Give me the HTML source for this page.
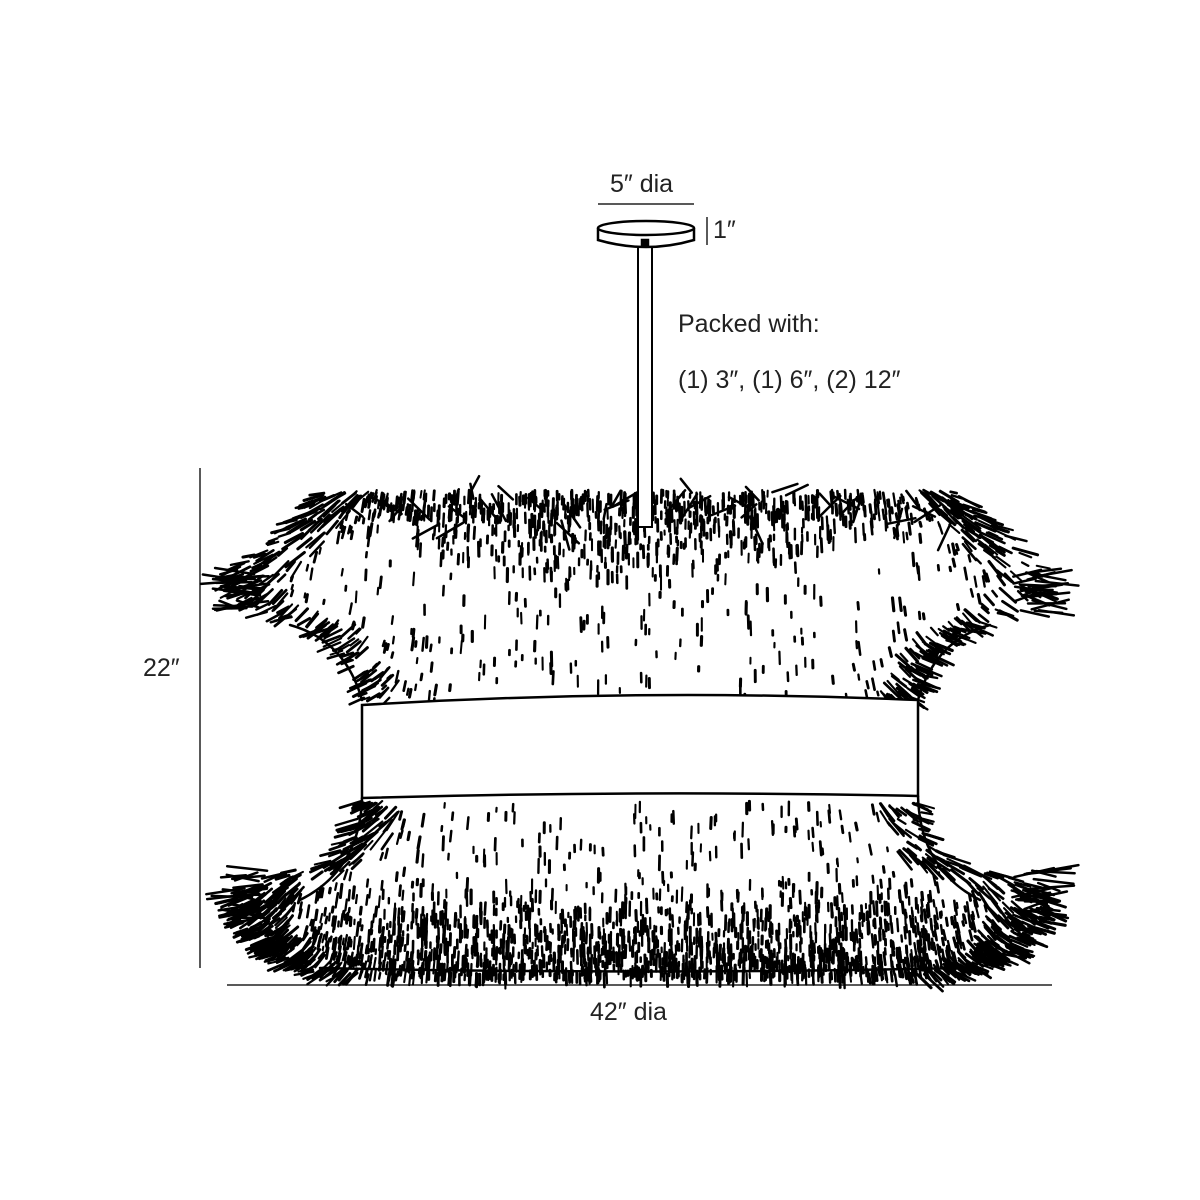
<!DOCTYPE html>
<html><head><meta charset="utf-8"><style>
html,body{margin:0;padding:0;background:#fff;}
#w{position:relative;width:1200px;height:1200px;overflow:hidden;font-family:"Liberation Sans","DejaVu Sans",sans-serif;color:#222;}
.t{position:absolute;font-size:25px;white-space:nowrap;font-weight:300;}
svg{position:absolute;left:0;top:0;}
</style></head><body><div id="w">
<svg id="s" width="1200" height="1200" viewBox="0 0 1200 1200">
<g stroke="#222" stroke-width="1.5" fill="none">
<line x1="598" y1="204" x2="694" y2="204"/>
<line x1="707" y1="217" x2="707" y2="245"/>
<line x1="200" y1="468" x2="200" y2="968"/>
<line x1="227" y1="985" x2="1052" y2="985"/>
</g>
<g id="fr" stroke="#000" stroke-linecap="round" fill="none"></g>
<g stroke="#000" stroke-width="2.5" fill="#fff">
<path d="M362 705 Q640 688 918 700 L918 796 Q640 790 362 798 Z"/>
<rect x="638" y="247" width="14" height="280" stroke-width="2"/>
<path d="M598 228 L598 240 Q646 254 694 240 L694 228"/>
<ellipse cx="646" cy="228" rx="48" ry="7"/>
<rect x="642" y="240" width="6" height="6" fill="#000"/>
</g>
</svg>
<div class="t" style="left:610px;top:170px;">5″ dia</div>
<div class="t" style="left:713px;top:216px;">1″</div>
<div class="t" style="left:678px;top:310px;">Packed with:</div>
<div class="t" style="left:678px;top:366px;">(1) 3″, (1) 6″, (2) 12″</div>
<div class="t" style="left:143px;top:654px;">22″</div>
<div class="t" style="left:590px;top:998px;">42″ dia</div>
</div>
<script>
(function(){
var seed=12345;function r(){seed=(seed*16807)%2147483647;return seed/2147483647;}
function interp(tab,y){for(var i=0;i<tab.length-1;i++){var a=tab[i],b=tab[i+1];if(y>=a[0]&&y<=b[0]){return a[1]+(b[1]-a[1])*(y-a[0])/(b[0]-a[0]);}}return null;}
var upL=[[490,330],[500,310],[520,290],[550,260],[570,232],[590,228],[610,270],[630,320],[660,350],[700,362]];
var loL=[[800,360],[830,355],[860,330],[880,260],[900,232],[920,238],[950,265],[975,320]];
var g=document.getElementById('fr');var out=[];
function line(x1,y1,x2,y2,w){out.push('<line x1="'+x1.toFixed(1)+'" y1="'+y1.toFixed(1)+'" x2="'+x2.toFixed(1)+'" y2="'+y2.toFixed(1)+'" stroke-width="'+w+'"/>');}
function region(tab,y0,y1,N,densF){
 for(var n=0;n<N;n++){
  var y=y0+r()*(y1-y0);var xl=interp(tab,y);if(xl==null)continue;
  var hw=640-xl;var x=640+(r()*2-1)*hw;
  var dx=(x-640)/hw;var ad=Math.abs(dx);
  var p=densF(y,ad);if(r()>p)continue;
  var ang=Math.sign(dx)*Math.pow(ad,4)*1.3+(r()-0.5)*0.3;
  var L=4+r()*10; if(ad>0.85)L+=r()*14;
  line(x,y,x+Math.sin(ad>0.85?ang:ang*0.3)*L,y+Math.cos(ang)*L,2+r()*1.2);
 }
}
region(upL,490,700,7000,function(y,ad){var c=1-Math.min(1,ad/0.7);var top=Math.max(0,(540+60*c-y)/(60+60*c));var e=Math.max(0,(ad-0.78)/0.22);return Math.min(1,0.04+0.75*top+0.45*e);});
region(loL,800,975,7000,function(y,ad){var b=Math.max(0,(y-870)/100);var e=Math.max(0,(ad-0.8)/0.2);return Math.min(1,0.04+0.8*b+0.45*e);});
for(var i=0;i<45;i++){var x=320+r()*640;var y=490+r()*35;var a=(r()-0.5)*2.4;line(x,y,x+Math.sin(a)*30,y+Math.cos(a)*30*(r()>0.5?1:-0.5),2.5);}
for(var s=-1;s<=1;s+=2){for(var i=0;i<25;i++){var y=570+r()*45;var x=640+s*(370+r()*30);line(x,y,x+s*(20+r()*25),y+(r()-0.5)*20,2.5);}
 for(var i=0;i<25;i++){var y=870+r()*50;var x=640+s*(370+r()*30);line(x,y,x+s*(20+r()*25),y+(r()-0.5)*20,2.5);}}
g.innerHTML=out.join('')+'<path d="M362 700 Q345 640 290 625 M918 700 Q935 640 990 625 M362 798 Q360 870 300 900 M918 796 Q920 870 980 900 M320 968 Q640 975 960 968" stroke-width="2.5"/>';
})();
</script>
</body></html>
